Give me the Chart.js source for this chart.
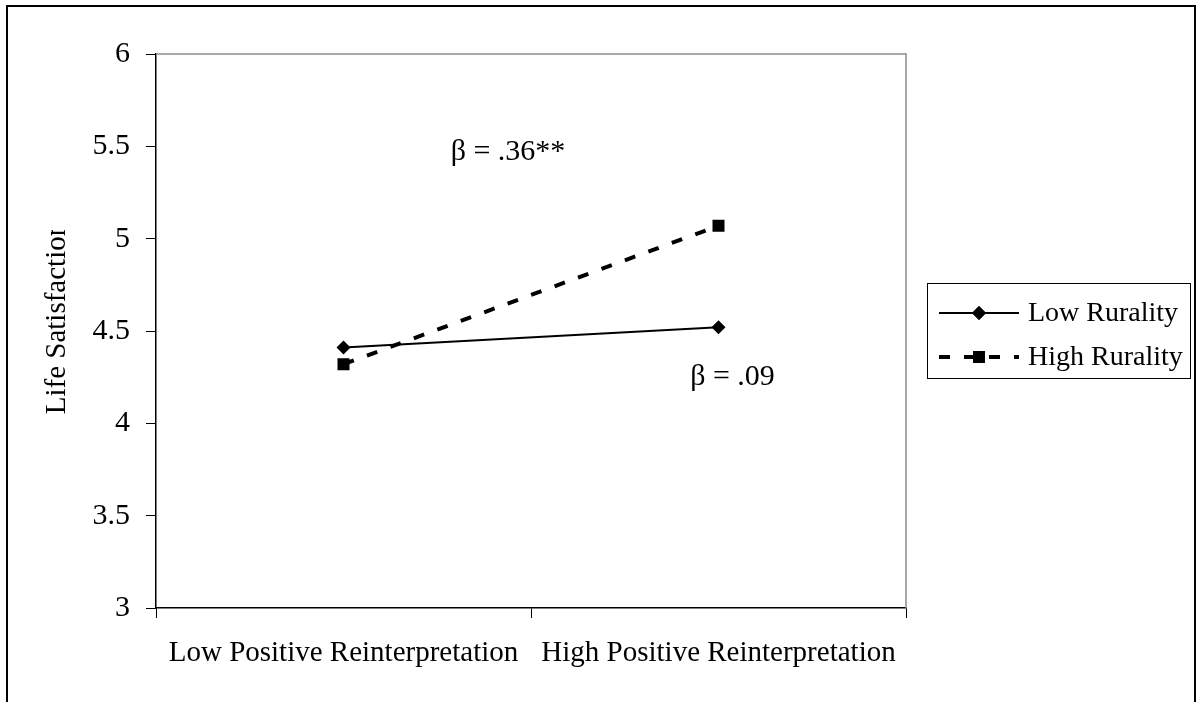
<!DOCTYPE html>
<html>
<head>
<meta charset="utf-8">
<script src="https://cdn.jsdelivr.net/npm/chart.js@4"></script>
<style>
  html, body { margin: 0; padding: 0; background: #fff; }
</style>
</head>
<body>
<canvas id="lifeChart" width="1199" height="702"></canvas>
<script>
// interaction plot: life satisfaction by positive reinterpretation x rurality
const categories = ["Low Positive Reinterpretation", "High Positive Reinterpretation"];
const seriesNames = ["Low Rurality", "High Rurality"];
const lowRurality = [4.41, 4.52];
const highRurality = [4.32, 5.07];
const yMin = 3, yMax = 6, yStep = 0.5;
const yTitle = "Life Satisfaction";
const slopeNotes = ["β = .36**", "β = .09"];

const serif = "'Liberation Serif', 'Times New Roman', serif";
Chart.defaults.font.family = serif;
Chart.defaults.color = "#000";

// outer frame, plot border, y title, legend box and slope notes
const extras = {
  id: "extras",
  afterDraw(chart) {
    const c = chart.ctx;
    const a = chart.chartArea;
    const x = chart.scales.x, y = chart.scales.y;
    c.save();

    // frame round the whole figure (bottom runs off the page)
    c.strokeStyle = "#000";
    c.lineWidth = 2;
    c.beginPath();
    c.moveTo(7, 702);
    c.lineTo(7, 6);
    c.lineTo(1195, 6);
    c.lineTo(1195, 702);
    c.stroke();

    // grey top + right edges of the plot
    c.strokeStyle = "#8c8c8c";
    c.lineWidth = 1.5;
    c.beginPath();
    c.moveTo(a.left, a.top);
    c.lineTo(a.right, a.top);
    c.lineTo(a.right, a.bottom);
    c.stroke();

    // y title, clipped like the original text box
    c.save();
    c.beginPath();
    c.rect(0, 230, 150, 472);
    c.clip();
    c.translate(57, 318);
    c.rotate(-Math.PI / 2);
    c.font = "29px " + serif;
    c.fillStyle = "#000";
    c.textAlign = "center";
    c.textBaseline = "middle";
    c.fillText(yTitle, 0, 0);
    c.restore();

    // slope notes
    c.font = "30px " + serif;
    c.fillStyle = "#000";
    c.textAlign = "center";
    c.textBaseline = "middle";
    c.fillText(slopeNotes[0], (a.left + a.right) / 2 - 23, y.getPixelForValue(5.47));
    c.fillText(slopeNotes[1], x.getPixelForValue(1) + 14, y.getPixelForValue(4.25));

    // legend
    c.strokeStyle = "#000";
    c.lineWidth = 1;
    c.strokeRect(927.5, 283.5, 263, 95);
    const rows = [313, 357];
    chart.data.datasets.forEach((ds, i) => {
      const ry = rows[i];
      c.save();
      c.strokeStyle = "#000";
      c.lineWidth = ds.borderWidth;
      c.setLineDash(ds.borderDash || []);
      c.beginPath();
      c.moveTo(939, ry);
      c.lineTo(1019, ry);
      c.stroke();
      c.restore();
      Chart.helpers.drawPoint(c, {
        pointStyle: ds.pointStyle,
        radius: ds.pointRadius,
        borderWidth: 0,
        rotation: 0
      }, 979, ry);
      c.fillStyle = "#000";
      c.fill();
      c.font = "28px " + serif;
      c.textAlign = "left";
      c.textBaseline = "middle";
      c.fillText(ds.label, 1028, ry + 1);
    });

    c.restore();
  }
};

const ctx = document.getElementById("lifeChart").getContext("2d");
const lifeChart = new Chart(ctx, {
  type: "line",
  data: {
    labels: categories,
    datasets: [
      {
        label: seriesNames[0],
        data: lowRurality,
        borderColor: "#000",
        backgroundColor: "#000",
        borderWidth: 2,
        pointStyle: "rectRot",
        pointRadius: 7,
        pointBorderWidth: 0,
        tension: 0
      },
      {
        label: seriesNames[1],
        data: highRurality,
        borderColor: "#000",
        backgroundColor: "#000",
        borderWidth: 4,
        borderDash: [11, 14],
        pointStyle: "rect",
        pointRadius: 8.5,
        pointBorderWidth: 0,
        tension: 0
      }
    ]
  },
  options: {
    responsive: false,
    animation: false,
    layout: { padding: { left: 0, top: 54, right: 293, bottom: 0 } },
    plugins: {
      legend: { display: false },
      tooltip: { enabled: false }
    },
    scales: {
      x: {
        offset: true,
        grid: { offset: true, drawOnChartArea: false, color: "#000", tickLength: 10 },
        border: { color: "#000", width: 1.5 },
        ticks: { font: { size: 29 }, padding: 18, maxRotation: 0 },
        afterFit: (s) => { s.height = 94; }
      },
      y: {
        min: yMin,
        max: yMax,
        ticks: { stepSize: yStep, font: { size: 30 }, padding: 16, callback: (v) => String(v) },
        grid: { drawOnChartArea: false, color: "#000", tickLength: 10 },
        border: { color: "#000", width: 1.5 },
        afterFit: (s) => { s.width = 156; }
      }
    }
  },
  plugins: [extras]
});
</script>
</body>
</html>
